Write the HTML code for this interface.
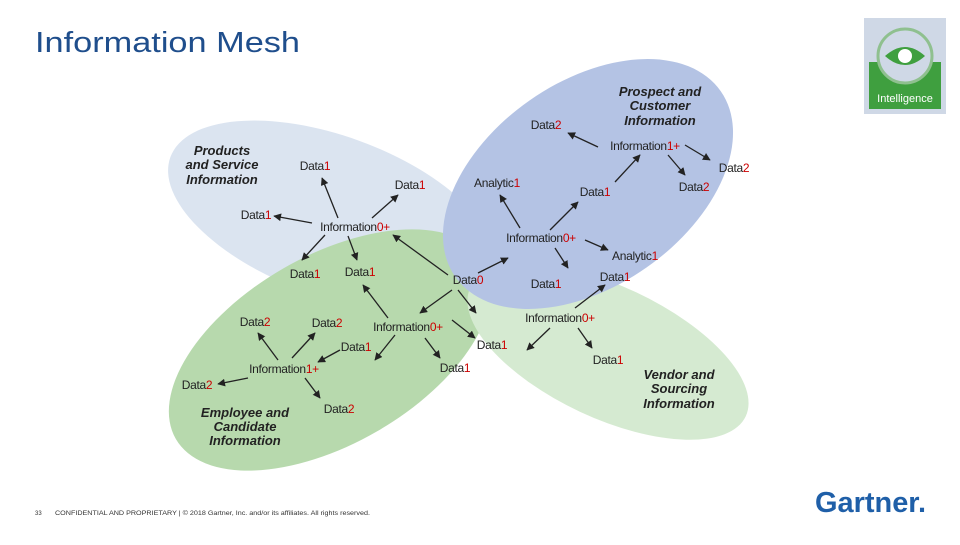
<!DOCTYPE html>
<html><head><meta charset="utf-8"><style>
body{margin:0;background:#fff;width:960px;height:540px;overflow:hidden;font-family:"Liberation Sans",sans-serif}
</style></head><body>
<svg width="960" height="540" viewBox="0 0 960 540" xmlns="http://www.w3.org/2000/svg" font-family="Liberation Sans, sans-serif">
<defs><marker id="a" viewBox="0 0 10 10" refX="9" refY="5" markerWidth="6" markerHeight="6" orient="auto-start-reverse"><path d="M0,0L10,5L0,10z" fill="#222"/></marker></defs>
<text x="35" y="52" font-size="29" fill="#1f4e8c" textLength="265" lengthAdjust="spacingAndGlyphs">Information Mesh</text>
<!-- logo -->
<rect x="864" y="18" width="82" height="96" fill="#cfd8e6"/>
<rect x="869" y="62" width="72" height="47" fill="#3f9f3f"/>
<circle cx="905" cy="56" r="27" fill="#cfd8e6" stroke="#8fc08f" stroke-width="3"/>
<path d="M885,56 Q905,38 925,56 Q905,74 885,56z" fill="#3f9f3f"/>
<circle cx="905" cy="56" r="7" fill="#fff"/>
<text x="905" y="102" font-size="11" fill="#fff" text-anchor="middle">Intelligence</text>
<!-- ellipses -->
<g opacity="0.75">
<ellipse cx="332" cy="216" rx="172" ry="80" transform="rotate(20 332 216)" fill="#cfdbec"/>
<ellipse cx="330" cy="350" rx="178" ry="94" transform="rotate(-30 330 350)" fill="#9fcd92"/>
<ellipse cx="608" cy="352" rx="152" ry="66" transform="rotate(25 608 352)" fill="#c8e4c2"/>
<ellipse cx="588" cy="184" rx="162" ry="102" transform="rotate(-35 588 184)" fill="#9cb0dc"/>
</g>
<!-- arrows -->
<g stroke="#222" stroke-width="1.3" marker-end="url(#a)">
<line x1="338" y1="218" x2="322" y2="178"/><line x1="372" y1="218" x2="398" y2="195"/>
<line x1="312" y1="223" x2="274" y2="216"/><line x1="325" y1="235" x2="302" y2="260"/>
<line x1="348" y1="236" x2="357" y2="260"/><line x1="448" y1="275" x2="393" y2="235"/>
<line x1="388" y1="318" x2="363" y2="285"/><line x1="452" y1="290" x2="420" y2="313"/>
<line x1="478" y1="273" x2="508" y2="258"/><line x1="458" y1="290" x2="476" y2="313"/>
<line x1="575" y1="308" x2="605" y2="285"/><line x1="550" y1="328" x2="527" y2="350"/>
<line x1="578" y1="328" x2="592" y2="348"/><line x1="452" y1="320" x2="475" y2="338"/>
<line x1="425" y1="338" x2="440" y2="358"/><line x1="395" y1="335" x2="375" y2="360"/>
<line x1="340" y1="350" x2="318" y2="362"/><line x1="278" y1="360" x2="258" y2="333"/>
<line x1="292" y1="358" x2="315" y2="333"/><line x1="248" y1="378" x2="218" y2="384"/>
<line x1="305" y1="378" x2="320" y2="398"/><line x1="598" y1="147" x2="568" y2="133"/>
<line x1="685" y1="145" x2="710" y2="160"/><line x1="668" y1="155" x2="685" y2="175"/>
<line x1="615" y1="182" x2="640" y2="155"/><line x1="550" y1="230" x2="578" y2="202"/>
<line x1="520" y1="228" x2="500" y2="195"/><line x1="585" y1="240" x2="608" y2="250"/>
<line x1="555" y1="248" x2="568" y2="268"/>
</g>
<!-- labels -->
<g font-size="12" fill="#222" text-anchor="middle" letter-spacing="-0.3">
<text x="315" y="170">Data<tspan fill="#c00">1</tspan></text>
<text x="410" y="189">Data<tspan fill="#c00">1</tspan></text>
<text x="256" y="219">Data<tspan fill="#c00">1</tspan></text>
<text x="355" y="231">Information<tspan fill="#c00">0+</tspan></text>
<text x="305" y="278">Data<tspan fill="#c00">1</tspan></text>
<text x="360" y="276">Data<tspan fill="#c00">1</tspan></text>
<text x="546" y="129">Data<tspan fill="#c00">2</tspan></text>
<text x="645" y="150">Information<tspan fill="#c00">1+</tspan></text>
<text x="734" y="172">Data<tspan fill="#c00">2</tspan></text>
<text x="497" y="187">Analytic<tspan fill="#c00">1</tspan></text>
<text x="595" y="196">Data<tspan fill="#c00">1</tspan></text>
<text x="694" y="191">Data<tspan fill="#c00">2</tspan></text>
<text x="541" y="242">Information<tspan fill="#c00">0+</tspan></text>
<text x="635" y="260">Analytic<tspan fill="#c00">1</tspan></text>
<text x="468" y="284">Data<tspan fill="#c00">0</tspan></text>
<text x="546" y="288">Data<tspan fill="#c00">1</tspan></text>
<text x="615" y="281">Data<tspan fill="#c00">1</tspan></text>
<text x="255" y="326">Data<tspan fill="#c00">2</tspan></text>
<text x="327" y="327">Data<tspan fill="#c00">2</tspan></text>
<text x="408" y="331">Information<tspan fill="#c00">0+</tspan></text>
<text x="356" y="351">Data<tspan fill="#c00">1</tspan></text>
<text x="284" y="373">Information<tspan fill="#c00">1+</tspan></text>
<text x="197" y="389">Data<tspan fill="#c00">2</tspan></text>
<text x="455" y="372">Data<tspan fill="#c00">1</tspan></text>
<text x="339" y="413">Data<tspan fill="#c00">2</tspan></text>
<text x="560" y="322">Information<tspan fill="#c00">0+</tspan></text>
<text x="492" y="349">Data<tspan fill="#c00">1</tspan></text>
<text x="608" y="364">Data<tspan fill="#c00">1</tspan></text>
</g>
<g font-size="13" font-weight="bold" font-style="italic" fill="#222" text-anchor="middle">
<text x="222" y="155">Products</text><text x="222" y="169">and Service</text><text x="222" y="184">Information</text>
<text x="660" y="96">Prospect and</text><text x="660" y="110">Customer</text><text x="660" y="125">Information</text>
<text x="245" y="417">Employee and</text><text x="245" y="431">Candidate</text><text x="245" y="445">Information</text>
<text x="679" y="379">Vendor and</text><text x="679" y="393">Sourcing</text><text x="679" y="408">Information</text>
</g>
<text x="35" y="515" font-size="6" fill="#333">33</text>
<text x="55" y="515" font-size="6" fill="#333" textLength="315" lengthAdjust="spacingAndGlyphs">CONFIDENTIAL AND PROPRIETARY  |  © 2018 Gartner, Inc. and/or its affiliates. All rights reserved.</text>
<text x="815" y="512" font-size="29" font-weight="bold" fill="#1f5fa8" textLength="111" lengthAdjust="spacingAndGlyphs">Gartner.</text>
</svg>
</body></html>
